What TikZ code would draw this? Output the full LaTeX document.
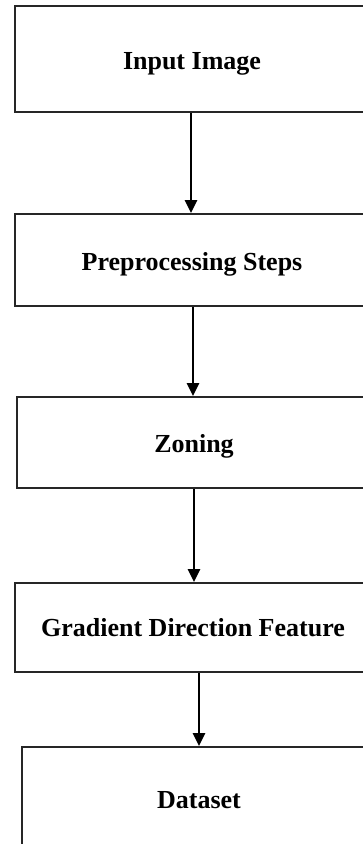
\documentclass[tikz,border=0pt]{standalone}
\usepackage{fontspec}
\setmainfont{Liberation Serif}
\usetikzlibrary{arrows.meta}
\begin{document}
\begin{tikzpicture}[x=1pt,y=-1pt,
  stepbox/.style={draw=black!85,line width=1.8pt,rectangle,inner sep=0pt,
    minimum width=354pt},
  steptext/.style={anchor=base,inner sep=0pt,font=\fontsize{26}{30}\selectfont\bfseries},
  arr/.style={line width=2.4pt,-{Triangle[length=13pt,width=12pt]}}]
\useasboundingbox (0,0) rectangle (363,844);
\clip (0,0) rectangle (363,844);
\node[stepbox,minimum height=106pt] (b1) at (192,59) {};
\node[steptext] (t1) at (192,69) {Input Image};
\node[stepbox,minimum height=92pt] (b2) at (192,260) {};
\node[steptext] (t2) at (192,270) {Preprocessing Steps};
\node[stepbox,minimum height=91pt] (b3) at (194,442.5) {};
\node[steptext] (t3) at (194,452.5) {Zoning};
\node[stepbox,minimum height=89pt,minimum width=356pt] (b4) at (193,627.5) {};
\node[steptext] (t4) at (193,636.5) {Gradient Direction Feature};
\node[stepbox,minimum height=110pt] (b5) at (199,802) {};
\node[steptext] (t5) at (199,808) {Dataset};
\draw[arr] ([xshift=-1pt]b1.south) -- ([xshift=-1pt]b1.south |- b2.north);
\draw[arr] ([xshift=1pt]b2.south) -- ([xshift=1pt]b2.south |- b3.north);
\draw[arr] (b3.south) -- (b3.south |- b4.north);
\draw[arr] ([xshift=6pt]b4.south) -- ([xshift=6pt]b4.south |- b5.north);
\end{tikzpicture}
\end{document}
